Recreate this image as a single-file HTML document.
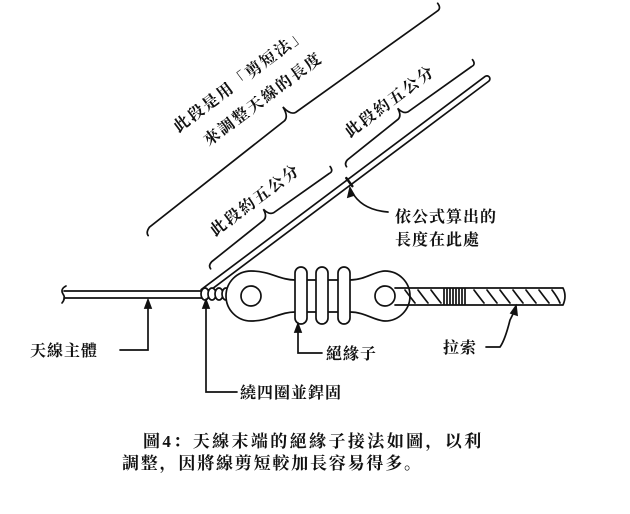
<!DOCTYPE html>
<html><head><meta charset="utf-8"><style>
html,body{margin:0;padding:0;background:#fff;}
svg{display:block;}
text{font-family:"Liberation Serif","Noto Serif CJK SC","Noto Sans CJK TC",serif;font-weight:bold;fill:#111;}
</style></head><body>
<svg width="630" height="514" viewBox="0 0 630 514" xmlns="http://www.w3.org/2000/svg">
<g stroke="#111" stroke-width="1.7" fill="none" stroke-linecap="round">
<g transform="translate(203,292) rotate(-36.9)">
  <path d="M0,-3 L355,-3 A3,3 0 0 1 355,3 L0,3" fill="#fff"/>
  <line x1="183" y1="-5" x2="183" y2="5" stroke-width="2.5"/>
  <path d="M-10,-78 q0,-4 6,-6 L168,-88 q6,-1 7,-12 q1,11 7,12 L355,-84 q6,1 6,-6"/>
  <path d="M20,-14 q0,-4 5,-5 L92,-21 q5,-1 6,-9 q1,8 6,9 L172,-19 q5,1 5,-5"/>
  <path d="M190,-14 q0,-4 5,-5 L260,-21 q5,-1 6,-9 q1,8 6,9 L350,-19 q5,1 5,-5"/>
  <text x="157" y="-142" font-size="16" letter-spacing="2" text-anchor="middle" stroke="none">此段是用「剪短法」</text>
  <text x="164" y="-113" font-size="16" letter-spacing="2" text-anchor="middle" stroke="none">來調整天線的長度</text>
  <text x="97" y="-37" font-size="16" letter-spacing="2" text-anchor="middle" stroke="none">此段約五公分</text>
  <text x="264" y="-35" font-size="16" letter-spacing="2" text-anchor="middle" stroke="none">此段約五公分</text>
</g>
<path d="M64,291 L205,291 M64,298 L202,298" />
<path d="M66,286 q-6,3 -3,8 q3,4 -1,9"/>
<g fill="#fff">
<ellipse cx="205" cy="294" rx="4" ry="6"/>
<ellipse cx="212" cy="294" rx="4" ry="6"/>
<ellipse cx="219" cy="294" rx="4" ry="6"/>
<ellipse cx="226" cy="294" rx="4" ry="6"/>
</g>
<path d="M230,291 L245,291 M230,298 L245,298"/>
<path d="M251,271 C270,271 280,280 295,280 L350,280 C365,280 375,271 385,271 A25,25 0 0 1 385,321 C375,321 365,312 350,312 L295,312 C280,312 270,321 251,321 A25,25 0 0 1 251,271 Z" fill="#fff"/>
<circle cx="251" cy="296" r="10" fill="#fff"/>
<circle cx="385" cy="296" r="10" fill="#fff"/>
<rect x="295" y="267" width="12" height="57" rx="6" fill="#fff"/>
<rect x="316" y="267" width="12" height="57" rx="6" fill="#fff"/>
<rect x="338" y="267" width="12" height="57" rx="6" fill="#fff"/>
<path d="M395,288 L563,288 M395,305 L563,305 M563,288 q4,8 0,17" fill="#fff"/>
<path d="M405,290 q6,8 10,13 M418,290 q6,8 10,13 M431,290 q6,8 10,13 M474,290 q6,8 10,13 M487,290 q6,8 10,13 M500,290 q6,8 10,13 M513,290 q6,8 10,13 M526,290 q6,8 10,13 M539,290 q6,8 10,13 M552,290 q6,8 8,13"/>
<path d="M444,289 v15 M447,289 v15 M450,289 v15 M453,289 v15 M456,289 v15 M459,289 v15 M462,289 v15 M465,289 v15"/>
<path d="M120,350 L148,350 L148,303"/>
<path d="M148,300 l-3,8 l6,0 Z" fill="#111"/>
<path d="M237,392 L206,392 L206,303"/>
<path d="M206,300 l-3,8 l6,0 Z" fill="#111"/>
<path d="M322,353 L298,353 L298,327"/>
<path d="M298,324 l-3,8 l6,0 Z" fill="#111"/>
<path d="M486,347 L500,347 Q505,340 510,320 L515,310"/>
<path d="M516,306 l-5,7 l6,2 Z" fill="#111"/>
<path d="M388,212 Q362,210 352,192"/>
<path d="M350,188 l-2,9 l6,-2 Z" fill="#111"/>
</g>
<text x="395" y="222" font-size="16" letter-spacing="1">依公式算出的</text>
<text x="395" y="245" font-size="16" letter-spacing="1">長度在此處</text>
<text x="30" y="356" font-size="16" letter-spacing="1">天線主體</text>
<text x="326" y="359" font-size="16" letter-spacing="1">絕緣子</text>
<text x="443" y="353" font-size="16" letter-spacing="1">拉索</text>
<text x="240" y="398" font-size="16" letter-spacing="1">繞四圈並銲固</text>
<text x="143" y="447" font-size="17" letter-spacing="2.4">圖4：天線末端的絕緣子接法如圖，以利</text>
<text x="122" y="469" font-size="17" letter-spacing="1.8">調整，因將線剪短較加長容易得多。</text>
</svg>
</body></html>
